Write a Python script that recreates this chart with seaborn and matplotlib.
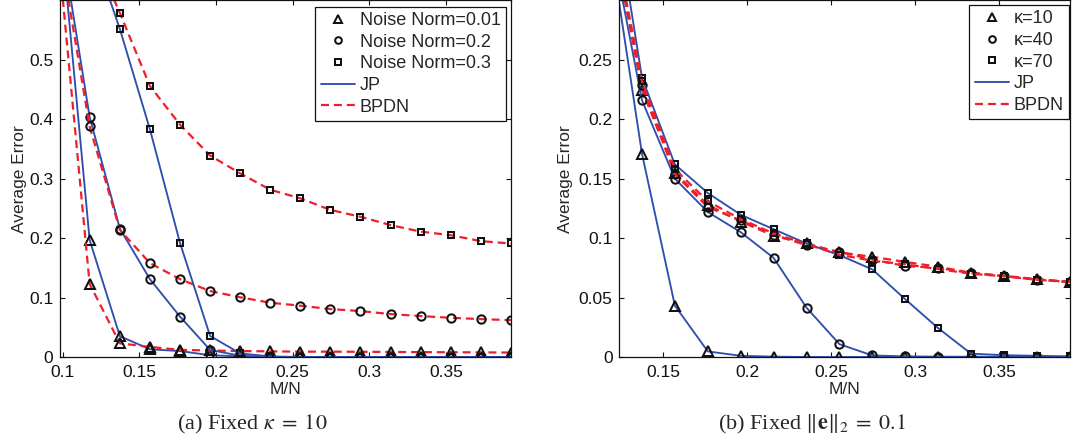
import matplotlib
matplotlib.use("Agg")
import matplotlib.pyplot as plt
from matplotlib.lines import Line2D
import seaborn as sns

# M/N sample points (N = 51, M = 5..20)
mn_a = [0.0980, 0.1176, 0.1373, 0.1569, 0.1765, 0.1961, 0.2157, 0.2353,
        0.2549, 0.2745, 0.2941, 0.3137, 0.3333, 0.3529, 0.3725, 0.3922]
mn_b = [0.1176, 0.1373, 0.1569, 0.1765, 0.1961, 0.2157, 0.2353,
        0.2549, 0.2745, 0.2941, 0.3137, 0.3333, 0.3529, 0.3725, 0.3922]

# (a) fixed kappa = 10, three noise norms
jp_n001 = [0.74, 0.197, 0.035, 0.013, 0.010, 0.003, 0.001, 0, 0, 0, 0, 0, 0, 0, 0, 0]
bp_n001 = [0.66, 0.123, 0.023, 0.017, 0.012, 0.011, 0.010, 0.0095, 0.009, 0.009,
           0.0088, 0.0085, 0.0082, 0.008, 0.0078, 0.0075]
jp_n02 = [0.72, 0.404, 0.216, 0.131, 0.068, 0.012, 0.002, 0, 0, 0, 0, 0, 0, 0, 0, 0]
bp_n02 = [0.69, 0.388, 0.214, 0.158, 0.131, 0.111, 0.1005, 0.0914, 0.0863, 0.0807,
          0.0773, 0.0722, 0.0689, 0.066, 0.0638, 0.062]
jp_n03 = [0.85, 0.70, 0.552, 0.383, 0.192, 0.0355, 0.006, 0.001, 0, 0, 0, 0, 0, 0, 0, 0]
bp_n03 = [0.85, 0.696, 0.579, 0.456, 0.391, 0.339, 0.309, 0.2815, 0.267, 0.2475,
          0.236, 0.222, 0.211, 0.205, 0.195, 0.191]

# (b) fixed ||e||_2 = 0.1, three sparsity levels
jp_k10 = [0.355, 0.171, 0.0432, 0.0047, 0.001, 0.0003, 0, 0, 0, 0, 0, 0, 0, 0, 0]
bp_k10 = [0.37, 0.225, 0.155, 0.128, 0.114, 0.102, 0.0955, 0.088, 0.0843, 0.080,
          0.0759, 0.0709, 0.0683, 0.0656, 0.0633]
jp_k40 = [0.36, 0.216, 0.150, 0.122, 0.105, 0.0834, 0.0415, 0.0108, 0.0013, 0.0005,
          0.0003, 0.0002, 0.0002, 0.0001, 0.0001]
bp_k40 = [0.37, 0.229, 0.154, 0.126, 0.115, 0.103, 0.094, 0.0884, 0.082, 0.0765,
          0.075, 0.0705, 0.068, 0.065, 0.063]
jp_k70 = [0.41, 0.235, 0.162, 0.138, 0.1197, 0.1075, 0.0955, 0.0857, 0.0737, 0.0486,
          0.0243, 0.0028, 0.0015, 0.001, 0.0005]
bp_k70 = [0.375, 0.232, 0.158, 0.131, 0.116, 0.104, 0.095, 0.086, 0.081, 0.078,
          0.074, 0.070, 0.068, 0.065, 0.0632]

labels_a = ["Noise Norm=0.01", "Noise Norm=0.2", "Noise Norm=0.3", "JP", "BPDN"]
labels_b = ["\u03ba=10", "\u03ba=40", "\u03ba=70", "JP", "BPDN"]

xt_a = [0.1, 0.15, 0.2, 0.25, 0.3, 0.35]
xtl_a = ["0.1", "0.15", "0.2", "0.25", "0.3", "0.35"]
yt_a = [0, 0.1, 0.2, 0.3, 0.4, 0.5]
ytl_a = ["0", "0.1", "0.2", "0.3", "0.4", "0.5"]
xt_b = [0.15, 0.2, 0.25, 0.3, 0.35]
xtl_b = ["0.15", "0.2", "0.25", "0.3", "0.35"]
yt_b = [0, 0.05, 0.1, 0.15, 0.2, 0.25]
ytl_b = ["0", "0.05", "0.1", "0.15", "0.2", "0.25"]

BLUE = "#2f4fae"
RED = "#ef1f29"
EDGE = "#111111"
DASH = (0, (3.6, 2.2))
MARKERS = ["^", "o", "s"]
MSIZE = [6.8, 6.0, 5.0]
MEW = 1.45
FS = 12.5

sns.set_style("ticks")
plt.rcParams["font.family"] = ["Liberation Sans", "DejaVu Sans"]
plt.rcParams["mathtext.fontset"] = "stix"
plt.rcParams["font.size"] = FS

fig = plt.figure(figsize=(10.75, 4.42), dpi=100)
ax_a = fig.add_axes([0.0554, 0.1923, 0.4199, 0.8067])
ax_b = fig.add_axes([0.5758, 0.1923, 0.4195, 0.8067])


def draw(ax, x, y, mk, ms, color, ls, lw):
    sns.lineplot(x=x, y=y, ax=ax, color=color, linestyle=ls, lw=lw, sort=False,
                 errorbar=None, legend=False, marker=mk, markersize=ms,
                 markerfacecolor="none", markeredgecolor=EDGE, markeredgewidth=MEW)


for i, (jp, bp) in enumerate([(jp_n001, bp_n001), (jp_n02, bp_n02), (jp_n03, bp_n03)]):
    draw(ax_a, mn_a, jp, MARKERS[i], MSIZE[i], BLUE, "-", 1.35)
    draw(ax_a, mn_a, bp, MARKERS[i], MSIZE[i], RED, DASH, 1.6)

for i, (jp, bp) in enumerate([(jp_k10, bp_k10), (jp_k40, bp_k40), (jp_k70, bp_k70)]):
    draw(ax_b, mn_b, jp, MARKERS[i], MSIZE[i], BLUE, "-", 1.35)
    draw(ax_b, mn_b, bp, MARKERS[i], MSIZE[i], RED, DASH, 1.6)


def style(ax, xlim, ylim, xt, xtl, yt, ytl, labels, anchor, ylab_x):
    ax.set_xlim(*xlim)
    ax.set_ylim(*ylim)
    ax.set_xticks(xt)
    ax.set_xticklabels(xtl)
    ax.set_yticks(yt)
    ax.set_yticklabels(ytl)
    ax.tick_params(which="both", direction="in", top=True, right=True,
                   length=3.5, width=0.8, labelsize=FS, pad=4.5, colors="#111111")
    ax.tick_params(axis="x", pad=5.5)
    for sp in ax.spines.values():
        sp.set_color("#111111")
        sp.set_linewidth(0.9)
    ax.set_xlabel("M/N", fontsize=FS, labelpad=1.5)
    ax.set_ylabel("Average Error", fontsize=FS)
    ax.yaxis.set_label_coords(ylab_x, 0.5)
    handles = [Line2D([], [], ls="none", marker=m, ms=s * 0.8, mfc="none", mec=EDGE, mew=MEW)
               for m, s in zip(MARKERS, MSIZE)]
    handles += [Line2D([], [], color=BLUE, lw=1.35),
                Line2D([], [], color=RED, lw=1.6, ls=DASH)]
    leg = ax.legend(handles, labels, loc="upper right", bbox_to_anchor=anchor,
                    frameon=True, fancybox=False, framealpha=1, edgecolor="#111111",
                    borderaxespad=0, handlelength=1.9, handletextpad=0.25,
                    labelspacing=0.26, borderpad=0.3, fontsize=13)
    leg.get_frame().set_linewidth(0.9)


style(ax_a, (0.098, 0.3922), (0, 0.6), xt_a, xtl_a, yt_a, ytl_a, labels_a,
      (0.989, 0.983), -0.072)
style(ax_b, (0.1236, 0.3922), (0, 0.3), xt_b, xtl_b, yt_b, ytl_b, labels_b,
      (0.998, 0.988), -0.102)

fig.text(252 / 1075, 1 - 424 / 442, r"(a) Fixed $\kappa\;=\;10$", ha="center", va="center",
         fontsize=16, family=["Liberation Serif", "DejaVu Serif"])
fig.text(812 / 1075, 1 - 424 / 442, r"(b) Fixed $\|\mathbf{e}\|_2\;=\;0.1$", ha="center",
         va="center", fontsize=16, family=["Liberation Serif", "DejaVu Serif"])

fig.savefig("out.png", dpi=100)
